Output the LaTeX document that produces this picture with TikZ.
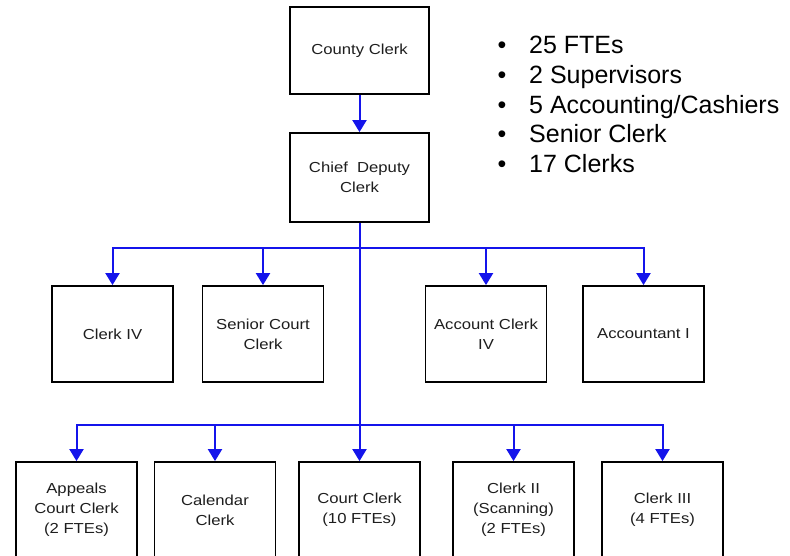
\documentclass[tikz,border=0pt]{standalone}
\usepackage{fontspec}
\setmainfont{Liberation Sans}
\newfontfamily\boxfont[FakeStretch=1.15]{Liberation Sans}
\usetikzlibrary{arrows.meta}
\definecolor{lineblue}{RGB}{20,20,235}
\definecolor{txt}{RGB}{30,30,30}
\begin{document}
\begin{tikzpicture}[x=1pt,y=-1pt,
  box/.style={draw=black,line width=1.8pt,fill=white,inner sep=0pt,align=center,
    font=\boxfont\fontsize{14.5}{20}\selectfont,text=txt},
  topbox/.style={box,minimum width=139pt},
  lowbox/.style={box,minimum width=121pt,minimum height=96pt},
  conn/.style={draw=lineblue,line width=2pt},
  arr/.style={conn,-{Triangle[length=12pt,width=14pt]}},
  bul/.style={font=\fontsize{25}{30}\selectfont,text=black,inner sep=0pt}]
\clip (0,0) rectangle (790,555);
\fill[white] (0,0) rectangle (790,555);

% top
\node[topbox,minimum height=87pt] (cc) at (359.5,50.5) {County Clerk};
\node[topbox,minimum height=89pt] (cd) at (359.5,177.5) {Chief\ \ Deputy\\Clerk};

% row 2
\node[lowbox] (c4)  at (112.5,334) {Clerk IV};
\node[lowbox] (scc) at (263,334)   {Senior Court\\Clerk};
\node[lowbox] (ac4) at (486,334)   {Account Clerk\\IV};
\node[lowbox] (ac1) at (643.5,334) {Accountant I};

% row 3
\node[lowbox] (apc) at (76.5,510)  {Appeals\\Court Clerk\\(2 FTEs)};
\node[lowbox] (cal) at (215,510)   {Calendar\\Clerk};
\node[lowbox] (cou) at (359.5,510) {Court Clerk\\(10 FTEs)};
\node[lowbox] (c2)  at (513.5,510) {Clerk II\\(Scanning)\\(2 FTEs)};
\node[lowbox] (c3)  at (662.5,510) {Clerk III\\(4 FTEs)};

% connectors
\coordinate (j1) at (359.5,248);
\coordinate (j2) at (359.5,425);
\draw[arr] (cc) -- (cd);
\draw[arr] (cd) -- (cou);
\draw[arr] (j1) -| (c4);
\draw[arr] (j1) -| (scc);
\draw[arr] (j1) -| (ac4);
\draw[arr] (j1) -| (ac1);
\draw[arr] (j2) -| (apc);
\draw[arr] (j2) -| (cal);
\draw[arr] (j2) -| (c2);
\draw[arr] (j2) -| (c3);

% bullet list
\foreach \i/\y/\t in {1/53/{25 FTEs},2/83/{2 Supervisors},3/113/{5 Accounting/Cashiers},4/142/{Senior Clerk},5/172/{17 Clerks}}{
  \node[bul,anchor=base] (b\i) at (502,\y) {\textbullet};
  \node[bul,anchor=base west] (t\i) at (529,\y) {\t};
}
\end{tikzpicture}
\end{document}
